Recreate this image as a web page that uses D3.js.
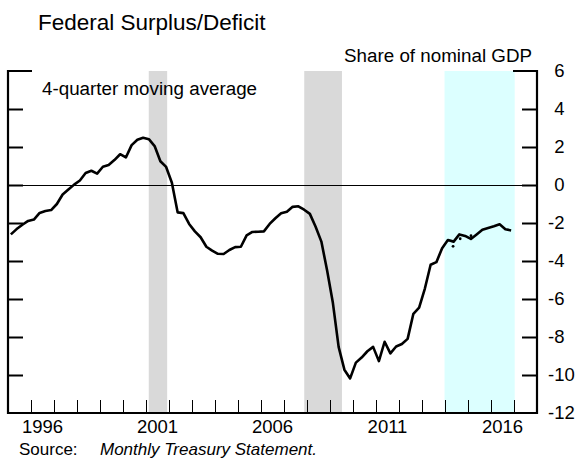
<!DOCTYPE html>
<html>
<head>
<meta charset="utf-8">
<script src="https://cdn.jsdelivr.net/npm/d3@7/dist/d3.min.js"></script>
<style>
  html, body { margin: 0; padding: 0; background: #fff; }
  svg { display: block; font-family: "Liberation Sans", Arial, Helvetica, sans-serif; }
</style>
</head>
<body>
<div id="chart"></div>
<script>
// ---- Data ----
const title = "Federal Surplus/Deficit";
const unitLabel = "Share of nominal GDP";
const seriesLabel = "4-quarter moving average";
const sourceLabel = "Source:";
const sourceText = "Monthly Treasury Statement.";

const firstQuarterYear = 1995; // series starts 1995 Q1, quarterly
const deficit = [
  -2.60, -2.32, -2.09, -1.89, -1.82, -1.47, -1.37, -1.32,
  -1.00, -0.50, -0.24, 0.02, 0.24, 0.63, 0.75, 0.60,
  0.96, 1.05, 1.31, 1.62, 1.45, 2.10, 2.38, 2.49,
  2.41, 2.05, 1.25, 0.95, 0.12, -1.44, -1.48, -2.05,
  -2.44, -2.75, -3.25, -3.45, -3.62, -3.63, -3.42, -3.27,
  -3.25, -2.65, -2.47, -2.46, -2.44, -2.05, -1.75, -1.49,
  -1.41, -1.15, -1.12, -1.30, -1.52, -2.20, -2.98, -4.50,
  -6.20, -8.52, -9.72, -10.18, -9.35, -9.08, -8.75, -8.52,
  -9.27, -8.25, -8.86, -8.50, -8.37, -8.10, -6.78, -6.45,
  -5.45, -4.20, -4.06, -3.33, -2.90, -2.98, -2.60, -2.68,
  -2.84, -2.60, -2.35, -2.26, -2.17, -2.07, -2.33, -2.39
];

const dotDates = [2014.35, 2014.66, 2015.13];
const dotValues = [-3.23, -2.83, -2.67];

const recessions = [[2001.12, 2001.92], [2007.88, 2009.52]];
const highlight = [[2013.98, 2017.03]];

const yearLabels = [1996, 2001, 2006, 2011, 2016];
const yTicks = [-12, -10, -8, -6, -4, -2, 0, 2, 4, 6];

// ---- Layout ----
const W = 577, H = 459;
const L = 8, R = 537, T = 71, B = 413;

const svg = d3.select("#chart").append("svg").attr("width", W).attr("height", H);

const x = d3.scaleLinear().domain([1995, 2018]).range([L, R]);
const y = d3.scaleLinear().domain([-12, 6]).range([B, T]);

// shading
svg.append("g").selectAll("rect").data(recessions).join("rect")
  .attr("x", d => x(d[0])).attr("y", T)
  .attr("width", d => x(d[1]) - x(d[0])).attr("height", B - T)
  .attr("fill", "#d9d9d9");
svg.append("g").selectAll("rect").data(highlight).join("rect")
  .attr("x", d => x(d[0])).attr("y", T)
  .attr("width", d => x(d[1]) - x(d[0])).attr("height", B - T)
  .attr("fill", "#dcffff");

// zero line
svg.append("line")
  .attr("x1", L).attr("x2", R).attr("y1", y(0) + 0.5).attr("y2", y(0) + 0.5)
  .attr("stroke", "#000").attr("stroke-width", 1).attr("shape-rendering", "crispEdges");

// x ticks (year boundaries) using d3 axis
const yearTicks = d3.range(1996, 2018);
const xAxis = d3.axisBottom(x).tickValues(yearTicks).tickSize(-13).tickFormat("");
const gx = svg.append("g").attr("transform", `translate(0,${B})`).call(xAxis);
gx.select(".domain").remove();
gx.selectAll(".tick line").attr("stroke", "#000").attr("stroke-width", 1).attr("shape-rendering", "crispEdges");

// year labels centred in year
svg.append("g").selectAll("text").data(yearLabels).join("text")
  .attr("x", d => x(d + 0.5)).attr("y", 433)
  .attr("text-anchor", "middle").attr("font-size", 18.5).attr("fill", "#000")
  .text(d => d);

// y ticks left and right
const innerTicks = yTicks.filter(d => d > -12 && d < 6);
const yAxisL = d3.axisLeft(y).tickValues(innerTicks).tickSize(-15).tickFormat("");
const gyl = svg.append("g").attr("transform", `translate(${L},0)`).call(yAxisL);
gyl.select(".domain").remove();
gyl.selectAll(".tick line").attr("stroke", "#000").attr("stroke-width", 2);
const yAxisR = d3.axisRight(y).tickValues(innerTicks).tickSize(-15).tickFormat("");
const gyr = svg.append("g").attr("transform", `translate(${R},0)`).call(yAxisR);
gyr.select(".domain").remove();
gyr.selectAll(".tick line").attr("stroke", "#000").attr("stroke-width", 2);

// top stubs
svg.append("line").attr("x1", L - 1).attr("x2", L + 24).attr("y1", y(6)).attr("y2", y(6))
  .attr("stroke", "#000").attr("stroke-width", 2);
svg.append("line").attr("x1", R - 24).attr("x2", R + 1).attr("y1", y(6)).attr("y2", y(6))
  .attr("stroke", "#000").attr("stroke-width", 2);

// axis frame lines
svg.append("line").attr("x1", L).attr("x2", L).attr("y1", T - 1).attr("y2", B + 1)
  .attr("stroke", "#000").attr("stroke-width", 2.2);
svg.append("line").attr("x1", R).attr("x2", R).attr("y1", T - 1).attr("y2", B + 1)
  .attr("stroke", "#000").attr("stroke-width", 2.2);
svg.append("line").attr("x1", L - 1).attr("x2", R + 1).attr("y1", B).attr("y2", B)
  .attr("stroke", "#000").attr("stroke-width", 2.2);

// right tick labels
svg.append("g").selectAll("text").data(yTicks).join("text")
  .attr("x", d => d < 0 ? 548 : 554.2)
  .attr("y", d => y(d)).attr("dy", "0.35em")
  .attr("font-size", 18.5).attr("fill", "#000")
  .text(d => d < 0 ? "-" + Math.abs(d) : d);

// line
const line = d3.line()
  .x((d, i) => x(firstQuarterYear + 0.125 + i * 0.25))
  .y(d => y(d));
svg.append("path").datum(deficit)
  .attr("d", line).attr("fill", "none")
  .attr("stroke", "#000").attr("stroke-width", 2.6).attr("stroke-linejoin", "round");

// dots
svg.append("g").selectAll("circle").data(dotValues).join("circle")
  .attr("cx", (d, i) => x(dotDates[i])).attr("cy", d => y(d))
  .attr("r", 1.4).attr("fill", "#000");

// texts
svg.append("text").attr("x", 38).attr("y", 30).attr("font-size", 22.5).attr("fill", "#000").text(title);
svg.append("text").attr("x", 532).attr("y", 62).attr("text-anchor", "end").attr("font-size", 18.8).attr("fill", "#000").text(unitLabel);
svg.append("text").attr("x", 42).attr("y", 95).attr("font-size", 18.8).attr("fill", "#000").text(seriesLabel);
svg.append("text").attr("x", 19).attr("y", 455).attr("font-size", 17).attr("fill", "#000").text(sourceLabel);
svg.append("text").attr("x", 100).attr("y", 455).attr("font-size", 17).attr("font-style", "italic").attr("fill", "#000").text(sourceText);
</script>
</body>
</html>
